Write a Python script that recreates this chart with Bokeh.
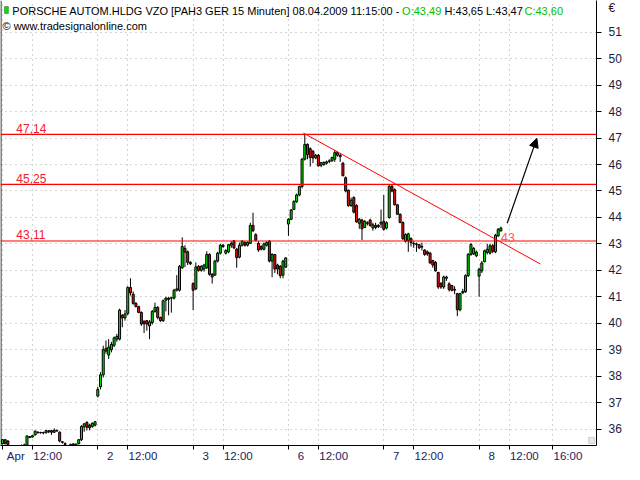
from bokeh.plotting import figure
from bokeh.models import (Range1d, FixedTicker, ColumnDataSource, Span, Label,
                          Arrow, NormalHead, BoxAnnotation)
from bokeh.embed import file_html
from bokeh.resources import INLINE

# ---------------- data (15-minute bars, 1-8 April 2009) ----------------
opens = [
    # Apr 1
    35.45, 35.60, 35.55, 35.30, 35.20, 35.15, 35.25, 35.30, 35.33, 35.40, 35.68, 35.70, 35.78, 35.88, 35.86, 35.87, 35.86, 35.90,
    35.94, 35.88, 35.95, 35.88, 35.52, 35.45, 35.35, 35.36, 35.44, 35.40, 35.45, 35.60, 36.08, 36.25, 36.15, 36.10, 36.15,
    # Apr 2
    37.25, 37.60, 38.05, 39.05, 38.80, 39.00, 39.17, 39.40, 39.40, 40.30, 40.20, 40.37, 41.35, 41.10, 40.75, 40.63, 40.41, 40.08,
    40.10, 39.90, 40.02, 40.45, 40.60, 40.22, 40.10, 40.87, 40.90, 40.95, 40.95, 41.25, 41.25, 42.10, 42.83, 42.70, 42.30,
    # Apr 3
    41.50, 41.30, 42.15, 42.00, 42.05, 42.10, 42.60, 41.85, 41.82, 42.35, 42.65, 42.95, 42.65, 42.70, 42.95, 43.12, 42.80, 42.50,
    42.95, 43.05, 42.95, 43.02, 43.70, 43.35, 43.02, 42.90, 42.80, 42.95, 43.10, 42.35, 42.60, 42.20, 42.15, 41.82, 42.12,
    # Apr 6
    43.75, 43.93, 44.30, 44.60, 44.85, 45.17, 46.20, 46.76, 46.60, 46.50, 46.25, 46.35, 45.97, 46.00, 46.05, 46.12, 46.14, 46.20,
    46.45, 46.35, 46.05, 45.50, 45.03, 44.45, 44.75, 44.45, 43.78, 43.90, 43.62, 43.80, 43.90, 43.60, 43.70, 43.70, 43.75,
    # Apr 7
    43.85, 43.60, 44.00, 45.18, 45.05, 44.48, 44.12, 43.81, 43.10, 43.12, 43.20, 43.02, 43.00, 42.97, 42.90, 42.77, 42.70, 42.65,
    42.37, 42.30, 41.92, 41.51, 41.37, 41.70, 41.49, 41.43, 41.25, 41.12, 40.51, 41.15, 41.19, 41.80, 42.60, 42.62, 42.55,
    # Apr 8
    41.78, 41.98, 42.33, 42.68, 42.65, 42.93, 42.70, 43.30, 43.49,
]
highs = [
    35.62, 35.62, 35.58, 35.35, 35.28, 35.30, 35.35, 35.42, 35.45, 35.76, 35.74, 35.78, 35.95, 35.92, 35.90, 35.90, 35.96, 35.96,
    35.96, 36.03, 35.98, 35.92, 35.55, 35.50, 35.38, 35.45, 35.46, 35.46, 35.62, 36.15, 36.22, 36.30, 36.20, 36.25, 36.30,
    37.60, 38.15, 39.15, 39.35, 39.40, 39.30, 39.50, 39.60, 40.55, 40.35, 40.50, 41.40, 41.70, 41.20, 40.80, 40.66, 40.45, 40.10,
    40.12, 40.12, 40.50, 40.78, 40.65, 40.25, 40.90, 41.00, 41.00, 41.00, 41.30, 41.82, 42.20, 43.25, 42.95, 42.75, 42.35,
    41.55, 42.30, 42.20, 42.20, 42.25, 42.72, 42.65, 41.90, 42.40, 42.70, 43.00, 43.00, 42.80, 43.00, 43.10, 43.15, 42.85, 43.05,
    43.15, 43.10, 43.10, 43.80, 44.18, 43.40, 43.10, 42.95, 43.05, 43.10, 43.15, 42.65, 42.62, 42.25, 42.20, 42.40, 42.50,
    43.97, 44.32, 44.65, 44.90, 45.20, 46.25, 47.14, 46.80, 46.65, 46.55, 46.40, 46.40, 46.10, 46.12, 46.15, 46.20, 46.30, 46.55,
    46.50, 46.40, 46.10, 45.55, 45.05, 44.75, 44.80, 44.50, 43.98, 43.95, 43.90, 43.85, 43.95, 43.80, 43.80, 43.75, 44.30,
    44.85, 43.85, 45.22, 45.25, 45.10, 44.50, 44.15, 43.85, 43.40, 43.42, 43.25, 43.10, 43.05, 43.00, 43.05, 42.80, 42.75, 42.70,
    42.40, 42.35, 41.95, 41.55, 41.80, 41.80, 41.55, 41.45, 41.40, 41.15, 41.15, 41.30, 41.85, 42.65, 43.02, 42.88, 42.75,
    42.10, 42.35, 42.78, 43.00, 43.00, 43.00, 43.38, 43.60, 43.65,
]
lows = [
    35.42, 35.42, 35.38, 35.10, 35.05, 35.10, 35.15, 35.25, 35.30, 35.35, 35.66, 35.68, 35.76, 35.84, 35.83, 35.80, 35.84, 35.85,
    35.78, 35.86, 35.90, 35.50, 35.45, 35.35, 35.25, 35.30, 35.30, 35.32, 35.42, 35.55, 35.90, 35.95, 35.95, 36.05, 36.10,
    37.20, 37.50, 37.95, 38.85, 38.65, 38.90, 39.10, 39.30, 39.35, 39.85, 40.10, 40.30, 41.05, 40.70, 40.60, 40.38, 39.90, 39.63,
    39.72, 39.40, 39.95, 40.40, 40.15, 40.05, 40.05, 40.45, 40.30, 40.40, 40.90, 41.20, 41.20, 42.05, 42.12, 42.20, 42.20,
    40.50, 41.25, 41.95, 41.95, 41.95, 42.05, 41.80, 41.50, 41.80, 42.30, 42.60, 42.85, 42.60, 42.65, 42.85, 42.80, 42.10, 42.45,
    42.90, 42.90, 42.90, 43.00, 43.45, 43.10, 42.70, 42.75, 42.75, 42.90, 42.30, 41.74, 41.90, 41.85, 41.70, 41.70, 42.10,
    43.30, 43.90, 44.28, 44.55, 44.80, 45.10, 46.15, 46.20, 45.92, 46.05, 46.20, 45.92, 45.90, 45.95, 46.00, 46.05, 46.10, 46.10,
    46.30, 46.10, 45.55, 44.95, 44.40, 44.40, 44.15, 43.80, 43.57, 43.15, 43.60, 43.70, 43.65, 43.50, 43.55, 43.60, 43.60,
    43.50, 43.55, 43.95, 44.95, 44.45, 44.10, 43.78, 43.15, 43.05, 42.70, 42.90, 42.85, 42.70, 42.80, 42.75, 42.55, 42.55, 42.25,
    42.10, 41.95, 41.30, 41.30, 41.30, 41.60, 41.20, 41.20, 41.10, 40.27, 40.45, 41.10, 41.15, 41.75, 42.55, 42.58, 42.50,
    41.00, 41.90, 42.30, 42.60, 42.60, 42.65, 42.65, 43.27, 43.47,
]
closes = [
    35.60, 35.45, 35.42, 35.20, 35.15, 35.25, 35.30, 35.35, 35.40, 35.74, 35.72, 35.75, 35.92, 35.86, 35.87, 35.86, 35.94, 35.94,
    35.88, 35.95, 35.93, 35.55, 35.50, 35.42, 35.30, 35.42, 35.40, 35.43, 35.60, 36.10, 36.20, 36.07, 36.05, 36.22, 36.28,
    37.50, 38.05, 39.00, 38.95, 39.10, 39.20, 39.45, 39.50, 40.50, 40.20, 40.35, 41.35, 41.15, 40.75, 40.63, 40.41, 39.97, 39.98,
    39.97, 40.05, 40.45, 40.60, 40.22, 40.10, 40.85, 40.95, 40.95, 40.96, 41.25, 41.30, 42.15, 42.90, 42.69, 42.30, 42.25,
    41.25, 42.13, 42.00, 42.15, 42.20, 42.60, 41.85, 41.75, 42.35, 42.65, 42.95, 42.90, 42.75, 42.97, 43.02, 42.85, 42.48, 42.95,
    43.10, 42.95, 43.05, 43.70, 43.50, 43.14, 42.77, 42.80, 43.00, 43.05, 42.35, 42.60, 42.05, 42.05, 41.80, 42.35, 42.47,
    43.93, 44.28, 44.60, 44.85, 45.17, 46.20, 46.76, 46.38, 46.26, 46.25, 46.35, 45.95, 46.07, 46.08, 46.10, 46.14, 46.26, 46.45,
    46.35, 46.30, 45.58, 45.00, 44.45, 44.65, 44.20, 43.83, 43.93, 43.57, 43.85, 43.78, 43.70, 43.72, 43.62, 43.65, 43.82,
    43.55, 43.80, 45.18, 45.00, 44.48, 44.12, 43.81, 43.20, 43.35, 43.38, 43.05, 43.00, 42.98, 42.85, 42.88, 42.60, 42.62, 42.28,
    42.20, 41.98, 41.37, 41.37, 41.75, 41.75, 41.27, 41.25, 41.28, 40.51, 41.12, 41.20, 41.80, 42.61, 42.98, 42.83, 42.69,
    42.04, 42.28, 42.74, 42.80, 42.93, 42.72, 43.33, 43.55, 43.60,
]

day_labels = ["Apr", "2", "3", "6", "7", "8"]
bars_per_day = 35
noon_bar = 11        # 12:00 bar within a session
late_bar = 27        # 16:00 bar within a session
price_ticks = list(range(36, 52))

levels = [47.14, 45.25, 43.11]
level_texts = ["47,14", "45,25", "43,11"]
trend_x = [110.5, 197.5]
trend_y = [47.19, 42.24]
arrow_x = [185.3, 196.2]
arrow_y = [43.78, 46.99]

title_parts = ["PORSCHE AUTOM.HLDG VZO [PAH3 GER  15 Minuten] 08.04.2009 11:15:00 -",
               "O:43,49", "H:43,65 L:43,47", "C:43,60"]
title_colors = ["#000000", "#00c000", "#000000", "#00c000"]
title_px = [12, 407, 450, 531]       # left edges in screen pixels
FONT = "Liberation Sans"

# ---------------- layout helpers ----------------
W, H = 624, 464
X0, X1 = -0.72, 218.1                 # bar-index range (2.76 px / bar)
Y0, Y1 = 35.38, 52.2                  # price range
FRAME_W, FRAME_H = 604.0, 444.0       # expected frame size in px


def px_to_x(px):
    return X0 + px * (X1 - X0) / FRAME_W


def py_to_y(py):
    return Y1 - py * (Y1 - Y0) / FRAME_H


# ---------------- derived ----------------
n = len(opens)
xs = list(range(n))
tops = [max(o, c) for o, c in zip(opens, closes)]
bots = [min(o, c) for o, c in zip(opens, closes)]
cols = ["#00e400" if c > o else ("#f01010" if c < o else "#000000") for o, c in zip(opens, closes)]
src = ColumnDataSource(dict(x=xs, h=highs, l=lows, top=tops, bot=bots, color=cols))

p = figure(width=W, height=H, x_range=Range1d(X0, X1), y_range=Range1d(Y0, Y1),
           output_backend="svg", toolbar_location=None, y_axis_location="right",
           min_border_left=0, min_border_top=0, min_border_right=0, min_border_bottom=0)
p.background_fill_color = "white"
p.border_fill_color = "white"
p.outline_line_color = None

# y grid (dotted)
p.ygrid.ticker = FixedTicker(ticks=price_ticks)
p.ygrid.grid_line_color = "#a8a8a8"
p.ygrid.grid_line_dash = "1 4"

# x axis: tick marks at real times (minor ticks), labels to the right of them (major ticks)
tick_pos, lab_pos, lab_txt = [], [], {}
for d, lab in enumerate(day_labels):
    s = d * bars_per_day
    tick_pos.append(s)
    lp = round(s + (4.9 if d == 0 else 4.6), 3)
    lab_pos.append(lp); lab_txt[lp] = lab
    tick_pos.append(s + noon_bar)
    lp = round(s + noon_bar + 5.6, 3)
    lab_pos.append(lp); lab_txt[lp] = "12:00"
s = 5 * bars_per_day + late_bar
tick_pos.append(s)
lp = round(s + 5.6, 3)
lab_pos.append(lp); lab_txt[lp] = "16:00"

xt = FixedTicker(ticks=lab_pos, minor_ticks=tick_pos)
xa = p.xaxis[0]
xa.ticker = xt
xa.major_label_overrides = lab_txt
xa.major_tick_out = 0
xa.major_tick_in = 0
xa.minor_tick_out = 4
xa.minor_tick_in = 0
xa.minor_tick_line_color = "black"
xa.axis_line_color = "black"
xa.major_label_standoff = 0
xa.major_label_text_font = FONT
xa.major_label_text_font_size = "11.5px"
xa.major_label_text_color = "#1c1c5c"
p.xgrid.ticker = xt
p.xgrid.grid_line_color = None
p.xgrid.minor_grid_line_color = "#a8a8a8"
p.xgrid.minor_grid_line_dash = "1 4"

# y axis on the right: ticks (minor) at integers, labels (major) incl. the currency sign
cur_pos = 51.9
ya = p.yaxis[0]
ya.ticker = FixedTicker(ticks=price_ticks + [cur_pos], minor_ticks=price_ticks)
ya.major_label_overrides = {cur_pos: "\u20ac"}
ya.major_tick_out = 0
ya.major_tick_in = 0
ya.minor_tick_out = 5
ya.minor_tick_in = 0
ya.minor_tick_line_color = "black"
ya.axis_line_color = "black"
ya.major_label_standoff = 7
ya.major_label_text_font = FONT
ya.major_label_text_font_size = "12px"
ya.major_label_text_color = "#1c1c3c"

# left frame border
p.add_layout(Span(location=X0 + 0.18, dimension="height", line_color="black", line_width=1))

# candles
p.segment(x0="x", y0="l", x1="x", y1="h", source=src, line_color="black", line_width=1)
p.vbar(x="x", width=0.74, top="top", bottom="bot", source=src,
       fill_color="color", line_color="black", line_width=1)

# horizontal levels
for lv, txt in zip(levels, level_texts):
    p.add_layout(Span(location=lv, dimension="width", line_color="#ff0000", line_width=1.2))
    p.add_layout(Label(x=px_to_x(16), y=lv + 0.06, text=txt, text_baseline="bottom",
                       text_font=FONT, text_font_size="12px", text_color="#f02030"))

# trend line
p.line(trend_x, trend_y, line_color="#ff0000", line_width=1)
p.add_layout(Label(x=182.9, y=43.07, text="43", text_baseline="bottom",
                   text_font=FONT, text_font_size="13px", text_color="#ff5a5a"))

# arrow
p.add_layout(Arrow(end=NormalHead(size=9, fill_color="black", line_color="black", line_width=1),
                   x_start=arrow_x[0], y_start=arrow_y[0], x_end=arrow_x[1], y_end=arrow_y[1],
                   line_color="black", line_width=1.2))

# header: small candle icon + texts
p.add_layout(BoxAnnotation(left=px_to_x(4), right=px_to_x(8), top=py_to_y(6), bottom=py_to_y(13),
                           fill_color="#00e400", fill_alpha=1, line_color="black", line_width=1))
for t, c, x in zip(title_parts, title_colors, title_px):
    p.add_layout(Label(x=px_to_x(x), y=py_to_y(4), text=t, text_baseline="top", text_font=FONT,
                       text_font_size="11px", text_color=c))
p.add_layout(Label(x=px_to_x(2), y=py_to_y(19), text="\u00a9 www.tradesignalonline.com",
                   text_baseline="top", text_font=FONT, text_font_size="11px", text_color="#000000"))

# resize grip in the bottom-right corner of the chart frame
p.add_layout(BoxAnnotation(left=px_to_x(FRAME_W - 8), right=px_to_x(FRAME_W - 2),
                           top=py_to_y(FRAME_H - 8), bottom=py_to_y(FRAME_H - 2),
                           fill_color="#e8e8e8", fill_alpha=1, line_color="#808080", line_width=1))

open("out.html", "w").write(file_html(p, INLINE))
